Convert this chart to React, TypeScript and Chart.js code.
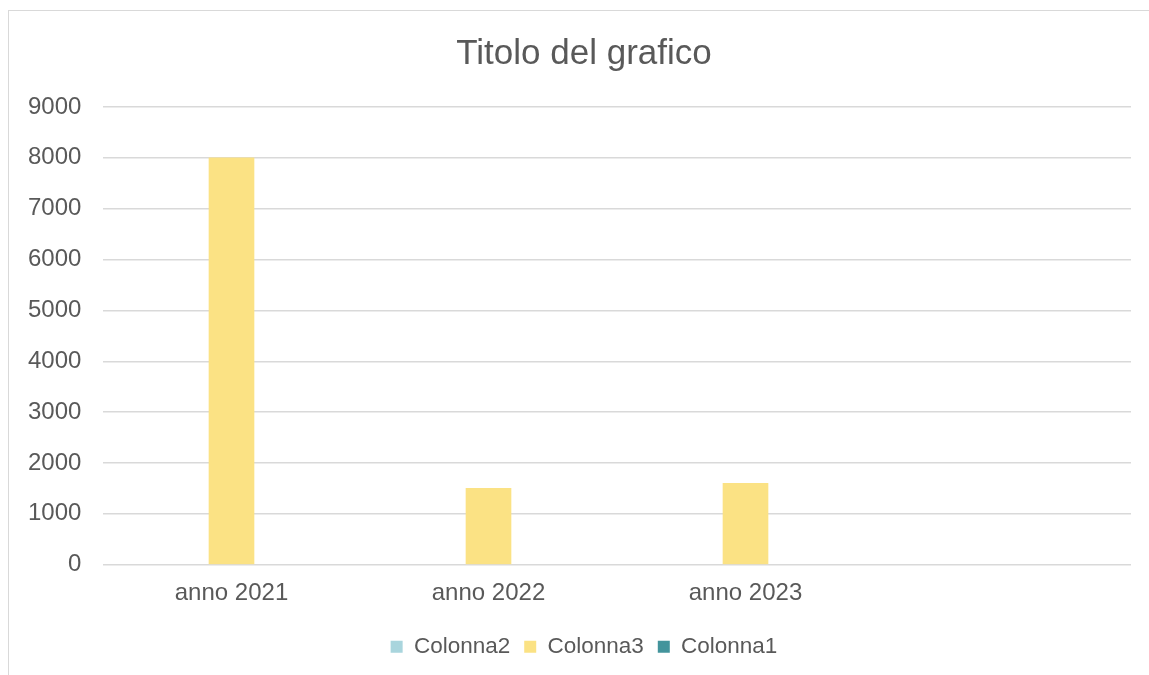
import React, { useEffect, useRef } from "react";
import { Chart, registerables } from "chart.js";

Chart.register(...registerables);

const categories = ["anno 2021", "anno 2022", "anno 2023", ""];
const colonna2 = [null, null, null, null];
const colonna3 = [8000, 1500, 1600, null];
const colonna1 = [null, null, null, null];
const yTicks = [0, 1000, 2000, 3000, 4000, 5000, 6000, 7000, 8000, 9000];

const FONT = "'Liberation Sans', Arial, sans-serif";
const TEXT = "#595959";

export default function App() {
  const ref = useRef<HTMLCanvasElement | null>(null);
  useEffect(() => {
    if (!ref.current) return;
    const chart = new Chart(ref.current, {
      type: "bar",
      data: {
        labels: categories,
        datasets: [
          { label: "Colonna2", data: colonna2, backgroundColor: "#A9D5DD", borderWidth: 0 },
          { label: "Colonna3", data: colonna3, backgroundColor: "#FBE284", borderWidth: 0 },
          { label: "Colonna1", data: colonna1, backgroundColor: "#43949C", borderWidth: 0 },
        ],
      },
      options: {
        animation: false,
        responsive: true,
        maintainAspectRatio: false,
        datasets: { bar: { barThickness: 45 } },
        layout: { padding: { left: 28, right: 36, top: 0, bottom: 21 } },
        plugins: {
          tooltip: { enabled: false },
          title: {
            display: true,
            text: "Titolo del grafico",
            color: TEXT,
            font: { family: FONT, size: 35, weight: "normal" },
            padding: { top: 22, bottom: 32 },
          },
          legend: {
            position: "bottom",
            labels: {
              color: TEXT,
              font: { family: FONT, size: 22.5 },
              boxWidth: 12,
              boxHeight: 12,
              padding: 14,
            },
          },
        },
        scales: {
          x: {
            grid: { display: false, drawTicks: false },
            border: { display: false },
            ticks: { color: TEXT, font: { family: FONT, size: 24 }, padding: 14 },
          },
          y: {
            min: 0,
            max: 9000,
            afterBuildTicks: (scale: any) => {
              scale.ticks = yTicks.map((v) => ({ value: v }));
            },
            afterFit: (scale: any) => {
              scale.width = 66;
            },
            grid: { color: "#D9D9D9", lineWidth: 1.5, drawTicks: false },
            border: { display: false },
            ticks: {
              color: TEXT,
              font: { family: FONT, size: 24 },
              mirror: true,
              crossAlign: "far",
              padding: -75,
              callback: (v: any) => String(v),
            },
          },
        },
      },
    });
    return () => chart.destroy();
  }, []);
  return (
    <div
      style={{
        position: "fixed",
        left: 8,
        top: 10,
        width: 1160,
        height: 680,
        border: "1px solid #D9D9D9",
        boxSizing: "border-box",
        background: "#fff",
      }}
    >
      <canvas ref={ref} />
    </div>
  );
}
